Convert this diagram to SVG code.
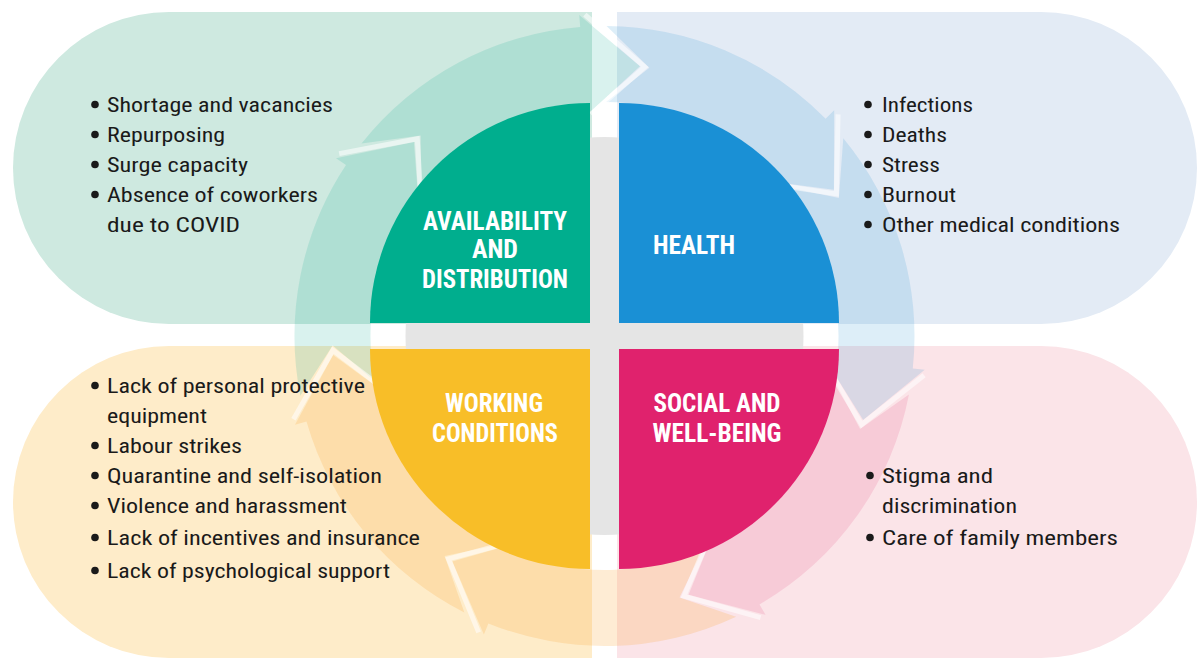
<svg xmlns="http://www.w3.org/2000/svg" width="1200" height="660" viewBox="0 0 1200 660">
<style>
.t{font-family:"Liberation Sans Narrow","Roboto Condensed","DejaVu Sans Condensed","Liberation Sans",Arial,sans-serif;font-size:21px;fill:#1a1a1a}
.lb{font-family:"Liberation Sans Narrow","Roboto Condensed","DejaVu Sans Condensed","Liberation Sans",Arial,sans-serif;font-size:25px;font-weight:bold;fill:#fff;text-anchor:middle}
.bu{fill:#1a1a1a}
.ag{fill:#00aa8c;fill-opacity:0.15}
.ab{fill:#1e8cd2;fill-opacity:0.15}
.ap{fill:#e63c78;fill-opacity:0.15}
.ao{fill:#faaa3c;fill-opacity:0.22}
.w{fill:none;stroke:#fff;stroke-opacity:0.55;stroke-width:5;stroke-linejoin:miter}
</style>
<rect width="1200" height="660" fill="#fff"/>
<g id="pills">
<path d="M592,12 H169 A156,156 0 0 0 169,324 H592 Z" fill="#cee9e0"/>
<path d="M617,12 H1041 A156,156 0 0 1 1041,324 H617 Z" fill="#e3ebf5"/>
<path d="M592,346 H169 A156,156 0 0 0 169,658 H592 Z" fill="#feecc9"/>
<path d="M617,346 H1041 A156,156 0 0 1 1041,658 H617 Z" fill="#fbe4e8"/>
</g>
<circle cx="604.5" cy="336" r="199" fill="#e5e5e5"/>
<g id="connectors">
<path class="ap" d="M908.93,394.51 A310,310 0 0 1 759.5,604.47 L765.5,614.86 L688.55,594.69 L715.5,528.26 L721.5,538.65 A234,234 0 0 0 834.29,380.17 L860.1,429.03 Z"/>
<path class="ao" d="M736.1,616.68 A310,310 0 0 1 488.37,623.43 L483.88,634.55 L452.4,561.5 L521.34,541.83 L516.84,552.96 A234,234 0 0 0 703.84,547.87 L679.47,597.46 Z"/>
<path class="ao" d="M464.34,612.5 A310,310 0 0 1 306.51,421.45 L294.97,424.76 L333.16,354.97 L391.1,397.19 L379.57,400.5 A234,234 0 0 0 498.7,544.72 L444.62,556.05 Z"/>
<path class="ag" d="M300.32,395.79 A310,310 0 0 1 345.99,164.9 L335.99,158.28 L413.85,142 L419.38,213.47 L409.37,206.85 A234,234 0 0 0 374.89,381.13 L332.67,345.49 Z"/>
<path class="ag" d="M361.48,143.55 A310,310 0 0 1 580.18,26.95 L579.24,14.99 L640,66.33 L587.08,114.68 L586.14,102.72 A234,234 0 0 0 421.06,190.73 L420.74,135.46 Z"/>
<path class="ab" d="M606.56,26.01 A310,310 0 0 1 825.61,118.72 L834.17,110.31 L833.9,189.85 L762.84,180.4 L771.4,171.99 A234,234 0 0 0 606.05,102 L649.39,67.73 Z"/>
<path class="ab" d="M843.3,138.32 A310,310 0 0 1 912.8,368.4 L924.74,369.66 L863.19,420.05 L825.28,359.21 L837.22,360.46 A234,234 0 0 0 784.75,186.78 L838.86,197.95 Z"/>
<polyline class="w" points="760.61,617.63 684.02,596.11 712.13,530.17"/>
<polyline class="w" points="478.68,632.4 448.49,558.81 517.76,540.35"/>
<polyline class="w" points="293.47,419.34 332.87,350.24 390.06,393.46"/>
<polyline class="w" points="339.13,153.62 417.27,138.7 421.54,210.26"/>
<polyline class="w" points="584.84,14.6 644.7,66.99 590.95,114.42"/>
<polyline class="w" points="838.07,114.35 836.42,193.88 765.53,183.19"/>
<polyline class="w" points="924.1,375.24 861.68,424.55 824.85,363.06"/>
</g>
<g id="availability">
<path d="M590,323 L370,323 A220,220 0 0 1 590,103 Z" fill="#00ae8e"/>
<text class="lb" x="495" y="230" textLength="144" lengthAdjust="spacingAndGlyphs">AVAILABILITY</text>
<text class="lb" x="495" y="258" textLength="46" lengthAdjust="spacingAndGlyphs">AND</text>
<text class="lb" x="495" y="288" textLength="146" lengthAdjust="spacingAndGlyphs">DISTRIBUTION</text>
</g>
<g id="health">
<path d="M619,323 L619,103 A220,220 0 0 1 839,323 Z" fill="#1a90d5"/>
<text class="lb" x="694" y="254" textLength="82" lengthAdjust="spacingAndGlyphs">HEALTH</text>
</g>
<g id="working">
<path d="M590,349 L590,569 A220,220 0 0 1 370,349 Z" fill="#f8be28"/>
<text class="lb" x="494" y="412" textLength="98" lengthAdjust="spacingAndGlyphs">WORKING</text>
<text class="lb" x="495" y="442" textLength="126" lengthAdjust="spacingAndGlyphs">CONDITIONS</text>
</g>
<g id="social">
<path d="M619,349 L839,349 A220,220 0 0 1 619,569 Z" fill="#e0226d"/>
<text class="lb" x="717" y="412" textLength="127" lengthAdjust="spacingAndGlyphs">SOCIAL AND</text>
<text class="lb" x="717" y="442" textLength="129" lengthAdjust="spacingAndGlyphs">WELL-BEING</text>
</g>
<g id="list-availability">
<circle class="bu" cx="95" cy="104.5" r="3.8"/>
<circle class="bu" cx="95" cy="134.5" r="3.8"/>
<circle class="bu" cx="95" cy="164.5" r="3.8"/>
<circle class="bu" cx="95" cy="194.5" r="3.8"/>
<text class="t" x="107" y="112" textLength="226" lengthAdjust="spacingAndGlyphs">Shortage and vacancies</text>
<text class="t" x="107" y="142" textLength="118" lengthAdjust="spacingAndGlyphs">Repurposing</text>
<text class="t" x="107" y="172" textLength="141" lengthAdjust="spacingAndGlyphs">Surge capacity</text>
<text class="t" x="107" y="202" textLength="211" lengthAdjust="spacingAndGlyphs">Absence of coworkers</text>
<text class="t" x="107" y="232" textLength="133" lengthAdjust="spacingAndGlyphs">due to COVID</text>
</g>
<g id="list-health">
<circle class="bu" cx="868" cy="104.5" r="3.8"/>
<circle class="bu" cx="868" cy="134.5" r="3.8"/>
<circle class="bu" cx="868" cy="164.5" r="3.8"/>
<circle class="bu" cx="868" cy="194.5" r="3.8"/>
<circle class="bu" cx="868" cy="224.5" r="3.8"/>
<text class="t" x="882" y="112" textLength="91" lengthAdjust="spacingAndGlyphs">Infections</text>
<text class="t" x="882" y="142" textLength="65" lengthAdjust="spacingAndGlyphs">Deaths</text>
<text class="t" x="882" y="172" textLength="58" lengthAdjust="spacingAndGlyphs">Stress</text>
<text class="t" x="882" y="202" textLength="74" lengthAdjust="spacingAndGlyphs">Burnout</text>
<text class="t" x="882" y="232" textLength="238" lengthAdjust="spacingAndGlyphs">Other medical conditions</text>
</g>
<g id="list-working">
<circle class="bu" cx="95" cy="385.5" r="3.8"/>
<circle class="bu" cx="95" cy="445.5" r="3.8"/>
<circle class="bu" cx="95" cy="475.5" r="3.8"/>
<circle class="bu" cx="95" cy="505.5" r="3.8"/>
<circle class="bu" cx="95" cy="537.5" r="3.8"/>
<circle class="bu" cx="95" cy="570.5" r="3.8"/>
<text class="t" x="107" y="393" textLength="258" lengthAdjust="spacingAndGlyphs">Lack of personal protective</text>
<text class="t" x="107" y="423" textLength="100" lengthAdjust="spacingAndGlyphs">equipment</text>
<text class="t" x="107" y="453" textLength="135" lengthAdjust="spacingAndGlyphs">Labour strikes</text>
<text class="t" x="107" y="483" textLength="275" lengthAdjust="spacingAndGlyphs">Quarantine and self-isolation</text>
<text class="t" x="107" y="513" textLength="240" lengthAdjust="spacingAndGlyphs">Violence and harassment</text>
<text class="t" x="107" y="545" textLength="313" lengthAdjust="spacingAndGlyphs">Lack of incentives and insurance</text>
<text class="t" x="107" y="578" textLength="283" lengthAdjust="spacingAndGlyphs">Lack of psychological support</text>
</g>
<g id="list-social">
<circle class="bu" cx="870" cy="475.5" r="3.8"/>
<circle class="bu" cx="870" cy="537.5" r="3.8"/>
<text class="t" x="882" y="483" textLength="111" lengthAdjust="spacingAndGlyphs">Stigma and</text>
<text class="t" x="882" y="513" textLength="135" lengthAdjust="spacingAndGlyphs">discrimination</text>
<text class="t" x="882" y="545" textLength="236" lengthAdjust="spacingAndGlyphs">Care of family members</text>
</g>
</svg>
